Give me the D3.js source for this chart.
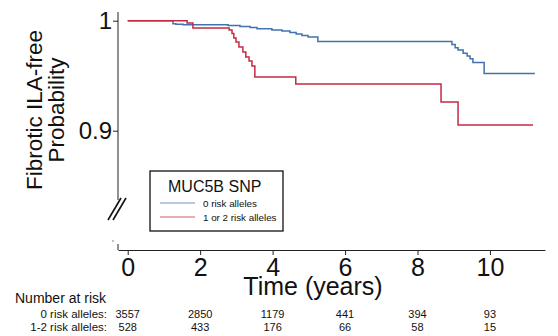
<!DOCTYPE html>
<html>
<head>
<meta charset="utf-8">
<script src="https://cdn.jsdelivr.net/npm/d3@7"></script>
<style>
  body { margin: 0; background: #fff; }
  svg { font-family: "Liberation Sans", Arial, sans-serif; }
</style>
</head>
<body>
<script>
// Kaplan-Meier steps
const blueTime = [0, 1.25, 1.33, 1.53, 2.77, 3.10, 3.38, 3.57, 3.98, 4.26, 4.48, 4.65, 4.81, 4.98, 5.25, 8.95, 9.04, 9.12, 9.26, 9.37, 9.45, 9.53, 9.84, 11.24];
const blueSurv = [1, 0.9973, 0.9967, 0.9964, 0.9956, 0.9947, 0.9938, 0.9927, 0.9915, 0.9906, 0.9893, 0.9879, 0.9865, 0.9852, 0.9811, 0.9784, 0.9754, 0.9733, 0.9703, 0.9679, 0.9655, 0.9619, 0.9521, 0.9521];
const redTime = [0, 1.64, 1.80, 2.80, 2.88, 2.93, 2.99, 3.07, 3.18, 3.26, 3.35, 3.43, 3.51, 4.64, 8.65, 9.12, 11.19];
const redSurv = [1, 0.9979, 0.9934, 0.9915, 0.9884, 0.9843, 0.9806, 0.9761, 0.9715, 0.9670, 0.9634, 0.9588, 0.9488, 0.9425, 0.9261, 0.9052, 0.9052];

const xTicks = [0, 2, 4, 6, 8, 10];
const yTicks = [1, 0.9];
const legendLabels = ["0 risk alleles", "1 or 2 risk alleles"];
const riskLabels = ["0 risk alleles:", "1-2 risk alleles:"];
const riskZero = [3557, 2850, 1179, 441, 394, 93];
const riskOneTwo = [528, 433, 176, 66, 58, 15];

const w = 558, h = 336;
const blue = "#4472ad", red = "#c42a42";

const svg = d3.select("body").append("svg").attr("width", w).attr("height", h);

const xScale = d3.scaleLinear().domain([-0.268, 11.52]).range([118, 545]);
const yScale = d3.scaleLinear().domain([0.9, 1]).range([130.7, 20.7]);

// y axis (broken)
const yAxis = d3.axisLeft(yScale).tickValues(yTicks).tickFormat(d3.format("")).tickSize(5).tickSizeOuter(0);
const gy = svg.append("g").attr("transform", "translate(118,0)").call(yAxis);
gy.select(".domain").remove();
gy.selectAll(".tick line").attr("stroke", "#222");
gy.selectAll(".tick text").attr("font-size", 24).attr("fill", "#111").attr("x", -6);
gy.append("line").attr("x1", 0).attr("x2", 0).attr("y1", 12).attr("y2", 200).attr("stroke", "#222");

// break marks
[0, 5].forEach((o) => {
  svg.append("line")
    .attr("x1", 108 + o).attr("y1", 220)
    .attr("x2", 121 + o).attr("y2", 198)
    .attr("stroke", "#111").attr("stroke-width", 1.6);
});
svg.append("circle").attr("cx", 113).attr("cy", 241).attr("r", 0.7).attr("fill", "#555");
svg.append("line").attr("x1", 118).attr("x2", 118).attr("y1", 244).attr("y2", 250).attr("stroke", "#222");

// x axis
const xAxis = d3.axisBottom(xScale).tickValues(xTicks).tickSize(5).tickSizeOuter(0);
const gx = svg.append("g").attr("transform", "translate(0,250)").call(xAxis);
gx.select(".domain").attr("stroke", "#222");
gx.selectAll(".tick line").attr("stroke", "#222");
gx.selectAll(".tick text").attr("font-size", 25).attr("fill", "#111").attr("dy", "0.66em").attr("y", 9.5);

svg.append("text").attr("x", 313).attr("y", 295).attr("text-anchor", "middle")
  .attr("font-size", 25).attr("fill", "#111").text("Time (years)");

// y title
const yt = svg.append("text").attr("transform", "translate(42,110) rotate(-90)")
  .attr("text-anchor", "middle").attr("font-size", 22.5).attr("fill", "#111");
yt.append("tspan").attr("x", 0).attr("y", 0).text("Fibrotic ILA-free");
yt.append("tspan").attr("x", 0).attr("y", 22).text("Probability");

// curves
const line = d3.line().x((d) => xScale(d[0])).y((d) => yScale(d[1])).curve(d3.curveStepAfter);
svg.append("path").datum(d3.zip(blueTime, blueSurv)).attr("d", line)
  .attr("fill", "none").attr("stroke", blue).attr("stroke-width", 1.5);
svg.append("path").datum(d3.zip(redTime, redSurv)).attr("d", line)
  .attr("fill", "none").attr("stroke", red).attr("stroke-width", 1.5);

// legend
const lg = svg.append("g").attr("transform", "translate(150,171)");
lg.append("rect").attr("width", 133).attr("height", 60).attr("fill", "#fff")
  .attr("stroke", "#111").attr("stroke-width", 1.3);
lg.append("text").attr("x", 18).attr("y", 21).attr("font-size", 16).attr("fill", "#111").text("MUC5B SNP");
[blue, red].forEach((c, i) => {
  lg.append("line").attr("x1", 10).attr("x2", 45).attr("y1", 32 + i * 14).attr("y2", 32 + i * 14)
    .attr("stroke", c).attr("stroke-width", 1.2).attr("opacity", 0.75);
  lg.append("text").attr("x", 53).attr("y", 35.5 + i * 14).attr("font-size", 9.8).attr("fill", "#111")
    .text(legendLabels[i]);
});

// number at risk
svg.append("text").attr("x", 15).attr("y", 303).attr("font-size", 14).attr("fill", "#111").text("Number at risk");
[riskZero, riskOneTwo].forEach((row, i) => {
  const yy = 318 + i * 12.5;
  svg.append("text").attr("x", 107).attr("y", yy).attr("text-anchor", "end")
    .attr("font-size", 11.5).attr("fill", "#111").text(riskLabels[i]);
  svg.selectAll(null).data(row).enter().append("text")
    .attr("x", (d, j) => xScale(xTicks[j])).attr("y", yy).attr("text-anchor", "middle")
    .attr("font-size", 11).attr("fill", "#111").text((d) => d);
});
</script>
</body>
</html>
